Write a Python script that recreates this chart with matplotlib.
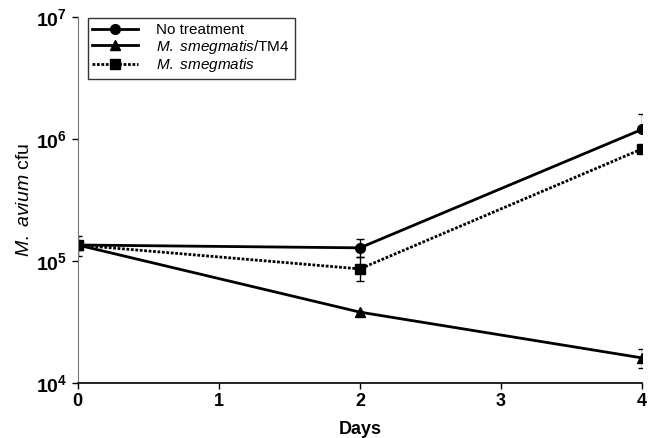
import matplotlib
matplotlib.use("Agg")
import matplotlib.pyplot as plt
from matplotlib.lines import Line2D
from matplotlib.ticker import NullLocator

plt.rcParams['font.family'] = ['Liberation Sans', 'DejaVu Sans']
plt.rcParams['mathtext.fontset'] = 'custom'
plt.rcParams['mathtext.rm'] = 'Liberation Sans'
plt.rcParams['mathtext.it'] = 'Liberation Sans:italic'
plt.rcParams['mathtext.bf'] = 'Liberation Sans:bold'

days = [0, 2, 4]

no_treat = [1.35e5, 1.28e5, 1.2e6]
no_treat_lo = [1.1e5, 1.08e5, 1.2e6]
no_treat_hi = [1.6e5, 1.52e5, 1.6e6]

tm4 = [1.35e5, 3.8e4, 1.6e4]
tm4_lo = [1.35e5, 3.8e4, 1.33e4]
tm4_hi = [1.35e5, 3.8e4, 1.9e4]

smeg = [1.35e5, 8.6e4, 8.3e5]
smeg_lo = [1.35e5, 6.9e4, 8.3e5]
smeg_hi = [1.35e5, 1.08e5, 8.3e5]

labels = ['No treatment', '$\\it{M.\\ smegmatis}$/TM4', '$\\it{M.\\ smegmatis}$']


def yerr(v, lo, hi):
    return [[a - b for a, b in zip(v, lo)], [c - a for a, c in zip(v, hi)]]


fig = plt.figure(figsize=(6.48, 4.38), dpi=100)
ax = fig.add_axes([0.120, 0.126, 0.871, 0.835])

dot = (0, (1, 0.6))
ax.errorbar(days, no_treat, yerr=yerr(no_treat, no_treat_lo, no_treat_hi),
            color='black', lw=2, marker='o', ms=7, capsize=3, elinewidth=1)
ax.errorbar(days, tm4, yerr=yerr(tm4, tm4_lo, tm4_hi),
            color='black', lw=2, marker='^', ms=7, capsize=3, elinewidth=1)
ax.errorbar(days, smeg, yerr=yerr(smeg, smeg_lo, smeg_hi),
            color='black', lw=2, ls=dot, marker='s', ms=7, capsize=3, elinewidth=1)

ax.set_yscale('log')
ax.set_ylim(1e4, 1e7)
ax.set_xlim(0, 4)
ax.set_xticks([0, 1, 2, 3, 4])
ax.set_xticklabels(['0', '1', '2', '3', '4'], fontweight='bold', fontsize=13)
ax.set_yticks([1e4, 1e5, 1e6, 1e7])
ax.yaxis.set_minor_locator(NullLocator())
ax.set_yticklabels(['$\\mathbf{10^4}$', '$\\mathbf{10^5}$', '$\\mathbf{10^6}$', '$\\mathbf{10^7}$'],
                   fontsize=14)

for s in ['top', 'right']:
    ax.spines[s].set_visible(False)
ax.spines['left'].set_color('#777777')
ax.spines['bottom'].set_linewidth(1.2)
ax.tick_params(direction='out', length=4, width=1)

ax.set_xlabel('Days', fontsize=13, fontweight='bold', labelpad=8)
ax.set_ylabel('$\\it{M.\\ avium}$ cfu', fontsize=14, labelpad=2)

handles = [
    Line2D([], [], color='black', lw=2, marker='o', ms=7),
    Line2D([], [], color='black', lw=2, marker='^', ms=7),
    Line2D([], [], color='black', lw=2, ls=dot, marker='s', ms=7),
]
leg = ax.legend(handles, labels, loc='upper left', bbox_to_anchor=(0.012, 1.005),
                fontsize=11, frameon=True, fancybox=False, edgecolor='black',
                borderpad=0.3, labelspacing=0.05, handlelength=3.0, handletextpad=1.2,
                borderaxespad=0.2)
leg.get_frame().set_linewidth(1)

fig.savefig('out.png', dpi=100)
